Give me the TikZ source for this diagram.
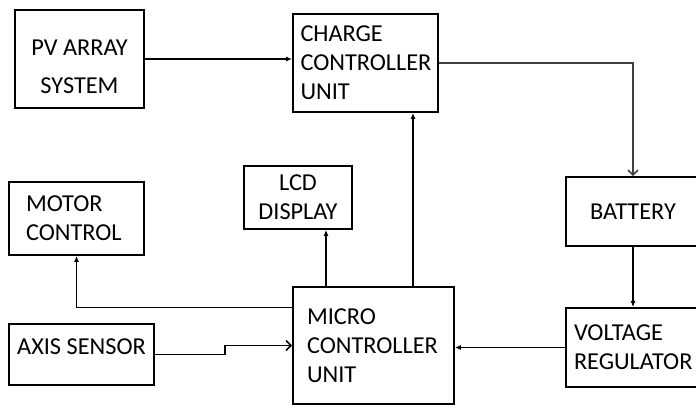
\documentclass[tikz,border=0pt]{standalone}
\usepackage{fontspec}
\setmainfont{Carlito}
\usetikzlibrary{arrows.meta, calc}

\begin{document}
\begin{tikzpicture}[x=1pt, y=-1pt,
    blk/.style={draw, line width=1.8pt, inner sep=0pt, font=\fontsize{24.3}{29}\selectfont},
    tip/.style={line width=1.5pt, -{Latex[length=6pt,width=5pt]}},
    barb/.style={line width=1.5pt, -{Straight Barb[length=5pt,width=10pt]}}]
    \useasboundingbox (0,0) rectangle (696,407);
    \node[blk, minimum width=129pt, text height=45pt, text depth=53pt] (pv) at (79.5,59)
        {\begin{tabular}[t]{@{}c@{}}PV ARRAY\\[9pt]SYSTEM\end{tabular}};
    \node[blk, inner xsep=7.5pt, text width=130pt, minimum height=98pt, align=left] (cc) at (365.5,63)
        {CHARGE\\CONTROLLER\\UNIT};
    \node[blk, minimum width=134pt, minimum height=69pt] (bat) at (633,211.5) {BATTERY};
    \node[blk, inner xsep=8pt, text width=126pt, minimum height=79pt, align=left] (vr) at (637,347.5)
        {VOLTAGE\\REGULATOR};
    \node[blk, inner xsep=14pt, text width=133pt, minimum height=117pt, align=left] (mcu) at (373.5,345.5)
        {MICRO\\CONTROLLER\\UNIT};
    \node[blk, inner xsep=17pt, text width=101pt, minimum height=73pt, align=left] (motor) at (76.5,218.5)
        {MOTOR\\CONTROL};
    \node[blk, minimum width=108pt, minimum height=63pt, align=center] (lcd) at (298,197.5)
        {LCD\\DISPLAY};
    \node[blk, minimum width=145pt, text height=30pt, text depth=31pt] (axis) at (81.5,354.5)
        {AXIS SENSOR};

    \draw[tip] (pv.east) -- (pv.east -| cc.west);
    \draw[barb, black!75] (cc.east) -| (bat.north);
    \draw[tip] (bat.south) -- (bat.south |- vr.north);
    \draw[tip] (vr.west) -- (vr.west -| mcu.east);
    \draw[tip] ([xshift=39.5pt]mcu.north) -- ([xshift=39.5pt]mcu.north |- cc.south);
    \draw[tip] ([xshift=-47.5pt]mcu.north) -- ([xshift=-47.5pt]mcu.north |- lcd.south);
    \draw[tip] ([yshift=38pt]mcu.west) -| (motor.south);
    \draw[barb] (axis.east) -- ++(70,0) |- (mcu.west);
\end{tikzpicture}
\end{document}
